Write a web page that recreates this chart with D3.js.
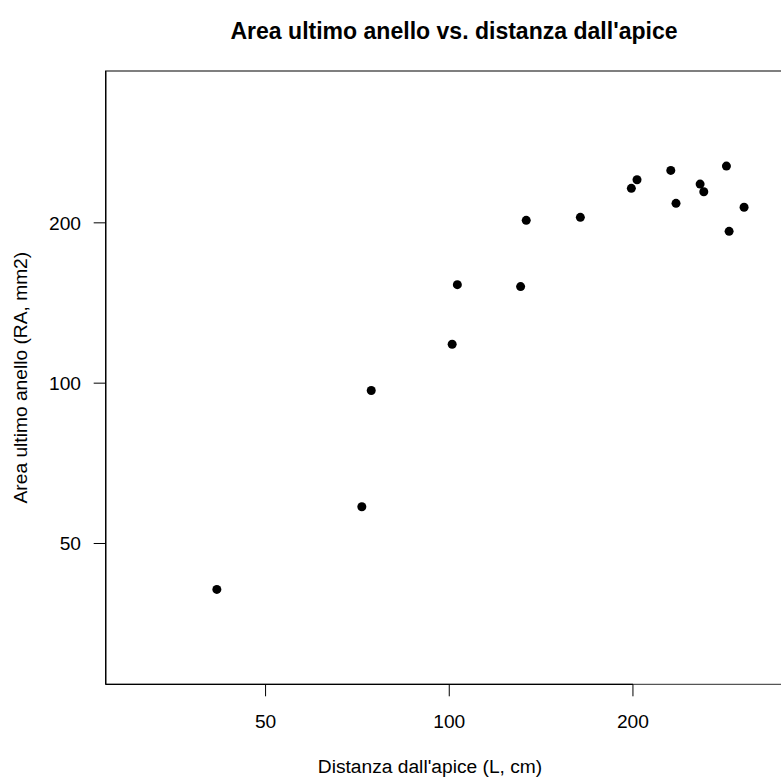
<!DOCTYPE html>
<html>
<head>
<meta charset="utf-8">
<script src="https://cdn.jsdelivr.net/npm/d3@7"></script>
<style>
  html, body { margin: 0; padding: 0; background: #fff; }
  svg { display: block; font-family: "Liberation Sans", Arial, sans-serif; }
</style>
</head>
<body>
<svg id="chart" width="781" height="780"></svg>
<script>
// Distanza dall'apice (L, cm) e area dell'ultimo anello (RA, mm2)
const distanza = [41.6, 71.9, 74.5, 101.1, 103.1, 130.9, 133.7, 164.0, 198.8, 203.1, 230.7, 235.3, 257.7, 261.3, 284.6, 287.5, 304.2];
const area     = [41.0, 58.6, 96.9, 118.3, 153.1, 151.8, 202.2, 204.8, 232.2, 240.9, 250.9, 217.6, 236.5, 228.8, 255.6, 192.8, 213.9];

const xTicks = [50, 100, 200];
const yTicks = [50, 100, 200];

const titolo = "Area ultimo anello vs. distanza dall'apice";
const xTitolo = "Distanza dall'apice (L, cm)";
const yTitolo = "Area ultimo anello (RA, mm2)";

const svg = d3.select("#chart");

const pLeft = 105.7, pRight = 785, pTop = 71, pBottom = 684.3;
const fs = 19.2;

const x = d3.scaleLog().domain([27.35, 355]).range([pLeft, pRight]);
const y = d3.scaleLog().domain([27.2, 385.6]).range([pBottom, pTop]);

// cornice del grafico (aperta a destra)
svg.append("path")
  .attr("d", `M${pRight},${pTop}H${pLeft}V${pBottom}H${pRight}`)
  .attr("fill", "none")
  .attr("stroke", "#555")
  .attr("stroke-width", 1.3);

// asse x
const gx = svg.append("g");
gx.append("line")
  .attr("x1", pLeft).attr("x2", x(d3.max(xTicks)))
  .attr("y1", pBottom).attr("y2", pBottom)
  .attr("stroke", "#000").attr("stroke-width", 1.3);
gx.selectAll("line.tick").data(xTicks).join("line")
  .attr("class", "tick")
  .attr("x1", d => x(d)).attr("x2", d => x(d))
  .attr("y1", pBottom).attr("y2", pBottom + 12)
  .attr("stroke", "#000").attr("stroke-width", 1);
gx.selectAll("text").data(xTicks).join("text")
  .attr("x", d => x(d)).attr("y", 728)
  .attr("text-anchor", "middle")
  .attr("font-size", fs)
  .text(d => d);

// asse y
const gy = svg.append("g");
gy.append("line")
  .attr("x1", pLeft).attr("x2", pLeft)
  .attr("y1", pTop).attr("y2", pBottom)
  .attr("stroke", "#000").attr("stroke-width", 1.3);
gy.selectAll("line.tick").data(yTicks).join("line")
  .attr("class", "tick")
  .attr("x1", pLeft - 12).attr("x2", pLeft)
  .attr("y1", d => y(d)).attr("y2", d => y(d))
  .attr("stroke", "#000").attr("stroke-width", 1);
gy.selectAll("text").data(yTicks).join("text")
  .attr("x", 81).attr("y", d => y(d))
  .attr("dy", "0.36em")
  .attr("text-anchor", "end")
  .attr("font-size", fs)
  .text(d => d);

// punti
svg.append("g").selectAll("circle").data(distanza.map((d, i) => [d, area[i]])).join("circle")
  .attr("cx", d => x(d[0]))
  .attr("cy", d => y(d[1]))
  .attr("r", 4.5)
  .attr("fill", "#000");

// titoli
svg.append("text")
  .attr("x", 454).attr("y", 39)
  .attr("text-anchor", "middle")
  .attr("font-size", fs * 1.2).attr("font-weight", "bold")
  .text(titolo);

svg.append("text")
  .attr("x", 430).attr("y", 773)
  .attr("text-anchor", "middle")
  .attr("font-size", fs)
  .text(xTitolo);

svg.append("text")
  .attr("transform", `translate(27,${(pTop + pBottom) / 2}) rotate(-90)`)
  .attr("text-anchor", "middle")
  .attr("font-size", fs)
  .text(yTitolo);
</script>
</body>
</html>
